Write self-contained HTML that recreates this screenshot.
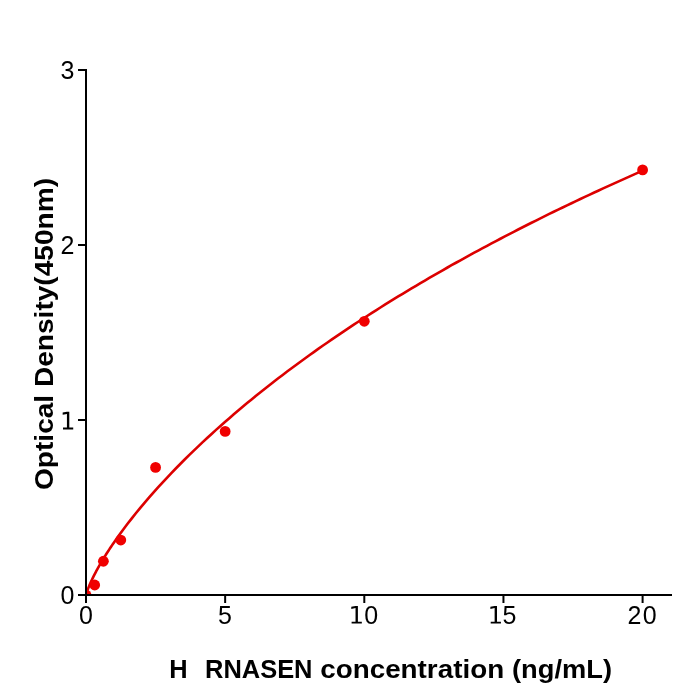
<!DOCTYPE html>
<html><head><meta charset="utf-8"><style>
html,body{margin:0;padding:0;background:#fff;}
svg{display:block;will-change:transform;}
text{font-family:"Liberation Sans",sans-serif;fill:#000;}
</style></head><body>
<svg width="700" height="700" viewBox="0 0 700 700">
<defs><clipPath id="ax"><rect x="86" y="70" width="584.5" height="525"/></clipPath></defs>
<rect width="700" height="700" fill="#fff"/>
<g clip-path="url(#ax)">
<polyline points="86.00,595.00 86.01,595.00 86.03,595.00 86.07,595.00 86.13,595.00 86.20,594.69 86.29,594.31 86.39,593.90 86.51,593.46 86.65,592.98 86.80,592.47 86.97,591.93 87.15,591.36 87.35,590.76 87.57,590.14 87.80,589.49 88.05,588.82 88.31,588.12 88.59,587.40 88.89,586.66 89.20,585.89 89.53,585.10 89.87,584.29 90.23,583.46 90.61,582.61 91.00,581.74 91.40,580.85 91.83,579.94 92.27,579.02 92.72,578.07 93.20,577.11 93.68,576.13 94.19,575.13 94.71,574.12 95.24,573.09 95.79,572.04 96.36,570.98 96.94,569.90 97.54,568.80 98.16,567.69 98.79,566.57 99.44,565.43 100.10,564.28 100.78,563.11 101.48,561.93 102.19,560.73 102.92,559.52 103.66,558.30 104.42,557.06 105.20,555.82 105.99,554.56 106.79,553.28 107.62,552.00 108.46,550.70 109.31,549.39 110.18,548.07 111.07,546.73 111.98,545.39 112.89,544.03 113.83,542.66 118.27,536.33 122.72,530.22 127.16,524.32 131.60,518.60 136.05,513.03 140.49,507.61 144.93,502.32 149.38,497.16 153.82,492.10 158.26,487.15 162.71,482.29 167.15,477.52 171.59,472.85 176.04,468.25 180.48,463.72 184.93,459.28 189.37,454.89 193.81,450.58 198.26,446.33 202.70,442.14 207.14,438.01 211.59,433.93 216.03,429.91 220.47,425.94 224.92,422.02 229.36,418.15 233.80,414.32 238.25,410.54 242.69,406.80 247.13,403.11 251.58,399.46 256.02,395.84 260.46,392.27 264.91,388.73 269.35,385.23 273.79,381.77 278.24,378.34 282.68,374.95 287.12,371.58 291.57,368.25 296.01,364.96 300.45,361.69 304.90,358.45 309.34,355.25 313.79,352.07 318.23,348.92 322.67,345.80 327.12,342.70 331.56,339.63 336.00,336.59 340.45,333.57 344.89,330.58 349.33,327.62 353.78,324.67 358.22,321.75 362.66,318.86 367.11,315.98 371.55,313.13 375.99,310.30 380.44,307.49 384.88,304.71 389.32,301.94 393.77,299.20 398.21,296.47 402.65,293.77 407.10,291.08 411.54,288.42 415.98,285.77 420.43,283.14 424.87,280.53 429.31,277.94 433.76,275.37 438.20,272.81 442.64,270.27 447.09,267.75 451.53,265.24 455.98,262.75 460.42,260.28 464.86,257.83 469.31,255.39 473.75,252.96 478.19,250.55 482.64,248.16 487.08,245.78 491.52,243.42 495.97,241.07 500.41,238.73 504.85,236.41 509.30,234.10 513.74,231.81 518.18,229.53 522.63,227.27 527.07,225.02 531.51,222.78 535.96,220.55 540.40,218.34 544.84,216.14 549.29,213.95 553.73,211.78 558.17,209.62 562.62,207.47 567.06,205.33 571.50,203.21 575.95,201.09 580.39,198.99 584.84,196.90 589.28,194.82 593.72,192.75 598.17,190.70 602.61,188.65 607.05,186.62 611.50,184.59 615.94,182.58 620.38,180.58 624.83,178.58 629.27,176.60 633.71,174.63 638.16,172.67 642.60,170.72" fill="none" stroke="#dc0000" stroke-width="2.6" stroke-linejoin="round"/>
<g fill="#f00000">
<circle cx="86.00" cy="595.00" r="5.4"/>
<circle cx="94.70" cy="585.02" r="5.4"/>
<circle cx="103.39" cy="561.23" r="5.4"/>
<circle cx="120.79" cy="540.05" r="5.4"/>
<circle cx="155.57" cy="467.43" r="5.4"/>
<circle cx="225.15" cy="431.38" r="5.4"/>
<circle cx="364.30" cy="321.30" r="5.4"/>
<circle cx="642.60" cy="169.93" r="5.4"/>
</g>
</g>
<g stroke="#000" stroke-width="2" fill="none">
<line x1="86" y1="69" x2="86" y2="596"/>
<line x1="85" y1="595" x2="672" y2="595"/>
<line x1="78" y1="595" x2="86" y2="595"/>
<line x1="78" y1="420" x2="86" y2="420"/>
<line x1="78" y1="245" x2="86" y2="245"/>
<line x1="78" y1="70" x2="86" y2="70"/>
<line x1="86" y1="595" x2="86" y2="603"/>
<line x1="225.15" y1="595" x2="225.15" y2="603"/>
<line x1="364.3" y1="595" x2="364.3" y2="603"/>
<line x1="503.45" y1="595" x2="503.45" y2="603"/>
<line x1="642.6" y1="595" x2="642.6" y2="603"/>
</g>
<g font-size="25" text-anchor="end">
<text x="74.5" y="604">0</text>
<path d="M63.01,427.43 L66.93,427.43 L66.93,413.92 L62.67,414.77 L62.67,412.59 L66.91,411.73 L69.30,411.73 L69.30,427.43 L73.22,427.43 L73.22,429.40 L63.01,429.40 Z"/>
<text x="74.5" y="254">2</text>
<text x="74.5" y="79">3</text>
</g>
<g font-size="25" text-anchor="middle">
<text x="86" y="623.5">0</text>
<text x="225" y="623.5">5</text>
<path d="M351.61,621.63 L355.53,621.63 L355.53,608.12 L351.27,608.97 L351.27,606.79 L355.51,605.93 L357.90,605.93 L357.90,621.63 L361.82,621.63 L361.82,623.60 L351.61,623.60 Z"/><text x="378.1" y="623.5" text-anchor="end">0</text>
<path d="M490.71,621.63 L494.63,621.63 L494.63,608.12 L490.37,608.97 L490.37,606.79 L494.61,605.93 L497.00,605.93 L497.00,621.63 L500.92,621.63 L500.92,623.60 L490.71,623.60 Z"/><text x="516.4" y="623.5" text-anchor="end">5</text>
<text x="642.0" y="623.5" textLength="29.1" lengthAdjust="spacing">20</text>
</g>
<g font-size="25.4" font-weight="bold">
<text x="169.3" y="677.8">H</text>
<text x="205" y="677.8" textLength="107.5" lengthAdjust="spacingAndGlyphs">RNASEN</text>
<text x="320.2" y="677.8" textLength="184" lengthAdjust="spacingAndGlyphs">concentration</text>
<text x="512" y="677.8" textLength="100" lengthAdjust="spacingAndGlyphs">(ng/mL)</text>
</g>
<text transform="translate(52.6,490) rotate(-90)" font-size="25.4" font-weight="bold" textLength="312" lengthAdjust="spacingAndGlyphs">Optical Density(450nm)</text>
</svg>
</body></html>
